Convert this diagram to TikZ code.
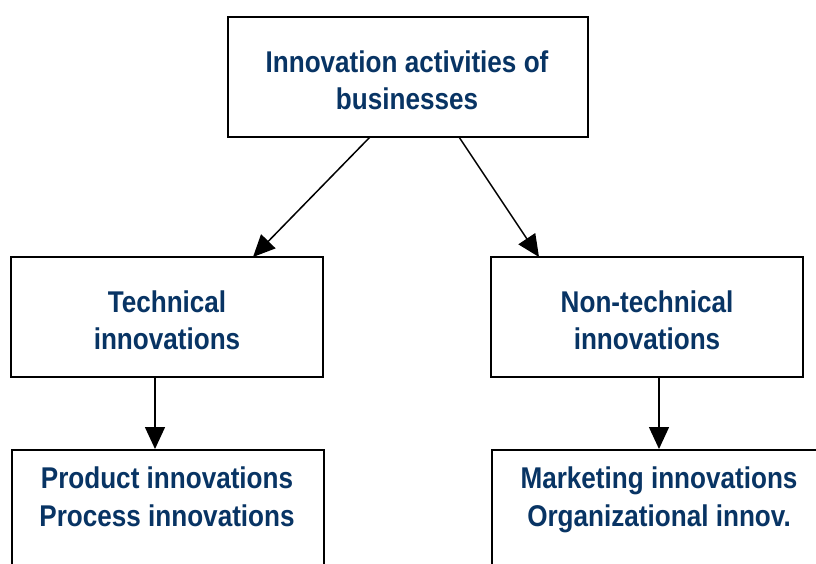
\documentclass[tikz,border=0pt]{standalone}
\usepackage{fontspec}
\setmainfont{Liberation Sans}[FakeStretch=0.87]
\usetikzlibrary{arrows.meta}
\definecolor{txtblue}{RGB}{8,52,100}
\tikzset{
  box/.style={draw=black, line width=2pt, fill=white, rectangle, inner sep=0pt},
  lbl/.style={text=txtblue, font=\fontsize{30}{37}\selectfont\bfseries, align=center, inner sep=0pt},
  conn/.style={line width=1.5pt, -{Triangle[length=22pt,width=20pt]}}
}
\begin{document}
\begin{tikzpicture}[x=1pt,y=-1pt]
\clip (0,0) rectangle (816,563);
\fill[white] (0,0) rectangle (816,563);
% top box
\node[box, minimum width=360pt, minimum height=120pt] (top) at (407.5,77) {};
\node[lbl] (toptxt) at (407,80) {Innovation activities of\\businesses};
% middle boxes
\node[box, minimum width=312pt, minimum height=120pt] (tech) at (167,317) {};
\node[lbl] (techtxt) at (167,320) {Technical\\innovations};
\node[box, minimum width=312pt, minimum height=120pt] (nontech) at (647,317) {};
\node[lbl] (nontechtxt) at (647,320) {Non-technical\\innovations};
% bottom boxes (cut by the picture edge)
\node[box, minimum width=312pt, minimum height=170pt, anchor=north west] (prod) at (11,449) {};
\node[lbl, anchor=north, font=\fontsize{30}{38}\selectfont\bfseries] (prodtxt) at (167,467) {Product innovations\\Process innovations};
\node[box, minimum width=334pt, minimum height=170pt, anchor=north west] (mark) at (491,449) {};
\node[lbl, anchor=north, font=\fontsize{30}{38}\selectfont\bfseries] (marktxt) at (659,467) {Marketing innovations\\Organizational innov.};
% connectors
\coordinate (a1) at (370,137);
\coordinate (a2) at (459,137);
\draw[conn] (a1) -- (253,257);
\draw[conn] (a2) -- (539,257);
\draw[conn] (155,377) -- (155,449);
\draw[conn] (659,377) -- (659,449);
\end{tikzpicture}
\end{document}
